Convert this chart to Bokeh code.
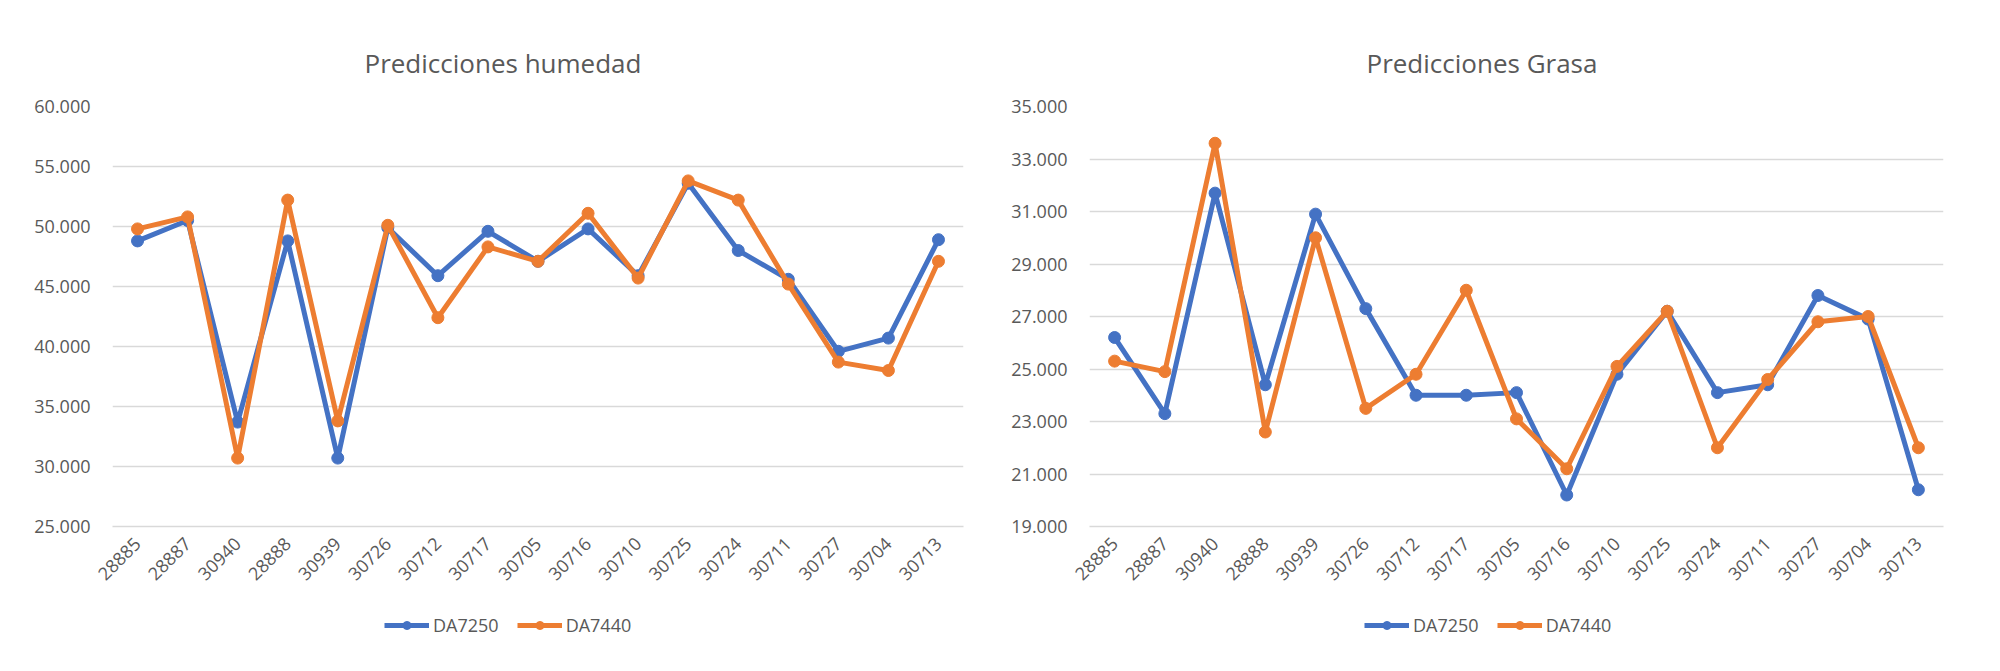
import math
from bokeh.plotting import figure
from bokeh.layouts import row, column
from bokeh.models import (Range1d, FactorRange, NumeralTickFormatter, FixedTicker,
                          Legend, LegendItem, ColumnDataSource, Title)
from bokeh.embed import file_html
from bokeh.resources import INLINE

samples = ["28885", "28887", "30940", "28888", "30939", "30726", "30712", "30717",
           "30705", "30716", "30710", "30725", "30724", "30711", "30727", "30704", "30713"]

series_names = ["DA7250", "DA7440"]

hum_da7250 = [48.8, 50.5, 33.7, 48.8, 30.7, 49.9, 45.9, 49.6, 47.1, 49.8, 45.9, 53.6,
              48.0, 45.6, 39.6, 40.7, 48.9]
hum_da7440 = [49.8, 50.8, 30.7, 52.2, 33.8, 50.1, 42.4, 48.3, 47.1, 51.1, 45.7, 53.8,
              52.2, 45.2, 38.7, 38.0, 47.1]

gra_da7250 = [26.2, 23.3, 31.7, 24.4, 30.9, 27.3, 24.0, 24.0, 24.1, 20.2, 24.8, 27.2,
              24.1, 24.4, 27.8, 26.9, 20.4]
gra_da7440 = [25.3, 24.9, 33.6, 22.6, 30.0, 23.5, 24.8, 28.0, 23.1, 21.2, 25.1, 27.2,
              22.0, 24.6, 26.8, 27.0, 22.0]

hum_ticks = [25, 30, 35, 40, 45, 50, 55, 60]
gra_ticks = [19, 21, 23, 25, 27, 29, 31, 33, 35]

titles = ["Predicciones humedad", "Predicciones Grasa"]

BLUE = "#4472C4"
ORANGE = "#ED7D31"
GREY = "#595959"
GRID = "#D9D9D9"
FONT = "Open Sans"

TOP, BOTTOM = 106, 75
FRAME_H = 420
W = 992
LEG_H = 60


def make_chart(title, ticks, s1, s2, left, right, frame_w, title_off):
    p = figure(frame_width=frame_w, frame_height=FRAME_H,
               output_backend="svg", toolbar_location=None,
               x_range=FactorRange(factors=samples, range_padding=0),
               y_range=Range1d(ticks[0], ticks[-1]),
               min_border_left=left, min_border_right=right,
               min_border_top=TOP, min_border_bottom=BOTTOM,
               background_fill_color="white", border_fill_color="white")
    p.outline_line_color = None

    ticker = FixedTicker(ticks=ticks)
    p.yaxis.ticker = ticker
    p.ygrid.ticker = ticker
    p.yaxis.formatter = NumeralTickFormatter(format="0.000")
    p.ygrid.grid_line_color = GRID
    p.ygrid.grid_line_width = 1.5
    p.xgrid.grid_line_color = None

    for ax in (p.xaxis, p.yaxis):
        ax.axis_line_color = None
        ax.major_tick_line_color = None
        ax.minor_tick_line_color = None
        ax.major_label_text_font = FONT
        ax.major_label_text_font_size = "18px"
        ax.major_label_text_color = GREY
    p.xaxis.axis_line_color = GRID
    p.xaxis.axis_line_width = 1.5
    p.xaxis.major_label_orientation = math.pi / 4
    p.xaxis.major_label_standoff = 8
    p.yaxis.major_label_standoff = 16

    src = ColumnDataSource(dict(x=samples, a=s1, b=s2))
    p.line("x", "a", source=src, line_color=BLUE, line_width=5)
    p.scatter("x", "a", source=src, size=12, fill_color=BLUE, line_color=BLUE)
    p.line("x", "b", source=src, line_color=ORANGE, line_width=5)
    p.scatter("x", "b", source=src, size=12, fill_color=ORANGE, line_color=ORANGE)

    p.add_layout(Title(text=title, align="left", offset=title_off, text_font=FONT,
                       text_font_size="26px", text_font_style="normal",
                       text_color=GREY, standoff=52), "above")
    return p


def make_legend(legend_x):
    q = figure(width=W, height=LEG_H, output_backend="svg", toolbar_location=None,
               x_range=Range1d(0, 1), y_range=Range1d(0, 1),
               x_axis_location=None, y_axis_location=None,
               min_border=0, background_fill_color="white",
               border_fill_color="white")
    q.outline_line_color = None
    q.grid.grid_line_color = None
    items = []
    for name, col in zip(series_names, [BLUE, ORANGE]):
        # sample glyphs kept outside the visible range: only the legend shows them
        src = ColumnDataSource(dict(x=[-3, -2], y=[-3, -2]))
        ln = q.line("x", "y", source=src, line_color=col, line_width=5)
        sc = q.scatter("x", "y", source=src, size=14, fill_color=col, line_color=col)
        items.append(LegendItem(label=name, renderers=[ln, sc]))
    legend = Legend(items=items, orientation="horizontal", location=(legend_x, 24),
                    border_line_color=None, background_fill_alpha=0,
                    label_text_font=FONT, label_text_font_size="18px",
                    label_text_color=GREY, glyph_width=45, glyph_height=20,
                    spacing=18, padding=0, margin=0, label_standoff=4)
    q.add_layout(legend)
    return q


p1 = make_chart(titles[0], hum_ticks, hum_da7250, hum_da7440, 112, 29, 851, 252)
p2 = make_chart(titles[1], gra_ticks, gra_da7250, gra_da7440, 97, 41, 854, 277)
q1 = make_legend(384)
q2 = make_legend(372)

layout = column(row(p1, p2), row(q1, q2))
open("out.html", "w").write(file_html(layout, INLINE))
